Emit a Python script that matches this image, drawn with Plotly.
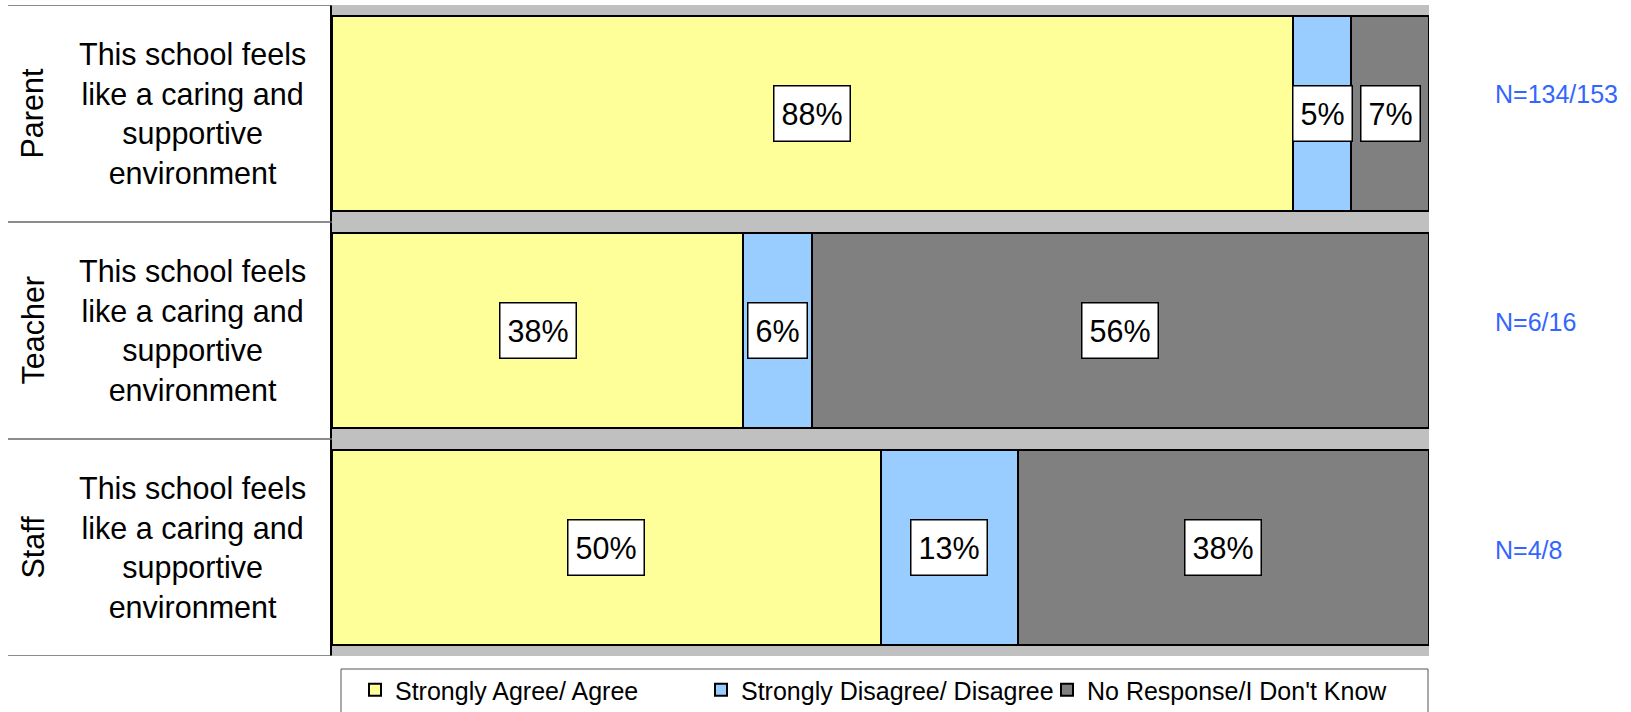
import plotly.graph_objects as go
import math

# ---- data ----
groups = ["Parent", "Teacher", "Staff"]
item_text = "This school feels<br>like a caring and<br>supportive<br>environment"
series_names = ["Strongly Agree/ Agree", "Strongly Disagree/ Disagree", "No Response/I Don't Know"]
agree = [87.6, 37.5, 50.0]
disagree = [5.3, 6.25, 12.5]
no_response = [7.1, 56.25, 37.5]
n_labels = ["N=134/153", "N=6/16", "N=4/8"]

colors = ["#FFFF99", "#99CCFF", "#808080"]
FONT = "Liberation Sans, Arial, sans-serif"

W, H = 1631, 712
ML, MR, MT, MB = 332, 202, 5, 56
PW = W - ML - MR
PH = H - MT - MB

def px(x):
    return (x - ML) / PW

def py(y):
    return (H - MB - y) / PH

ypos = list(range(len(groups)))
series = [agree, disagree, no_response]

fig = go.Figure()
for name, vals, col in zip(series_names, series, colors):
    fig.add_trace(go.Bar(
        y=ypos, x=vals, name=name, orientation="h",
        marker=dict(color=col, line=dict(color="black", width=2)),
        width=0.9, hoverinfo="skip",
    ))

def lab(v):
    return f"{int(math.floor(v + 0.5))}%"

annotations = []
for i in range(len(groups)):
    cum = 0
    for vals in series:
        v = vals[i]
        annotations.append(dict(
            x=cum + v / 2, y=ypos[i], xref="x", yref="y",
            text=lab(v), showarrow=False,
            font=dict(family=FONT, size=30.5, color="black"),
            bgcolor="white", bordercolor="black", borderwidth=1.5, borderpad=7,
            height=40,
        ))
        cum += v

# left-side labels
for i, g in enumerate(groups):
    yc = 1 - (i + 0.5) / len(groups)
    annotations.append(dict(
        x=px(32), y=yc, xref="paper", yref="paper",
        text=g, textangle=-90, showarrow=False,
        font=dict(family=FONT, size=30.5, color="black"),
        xanchor="center", yanchor="middle",
    ))
    annotations.append(dict(
        x=px(192), y=yc, xref="paper", yref="paper",
        text=item_text, showarrow=False, align="center",
        font=dict(family=FONT, size=30.5, color="black"),
        xanchor="center", yanchor="middle",
    ))

# N labels on the right
n_y_px = [94, 322, 550]
for t, yy in zip(n_labels, n_y_px):
    annotations.append(dict(
        x=px(1493), y=py(yy),
        xref="paper", yref="paper", text=t, showarrow=False,
        font=dict(family=FONT, size=25, color="#3366FF"),
        xanchor="left", yanchor="middle",
    ))

shapes = []
for b in [-0.5, 0.5, 1.5, 2.5]:
    shapes.append(dict(
        type="line", xref="paper", yref="y",
        x0=px(8), x1=0, y0=b, y1=b,
        line=dict(color="#666666", width=1.5),
    ))
# legend frame
shapes.append(dict(
    type="rect", xref="paper", yref="paper",
    x0=px(341), x1=px(1428), y0=py(669), y1=py(716),
    line=dict(color="#555555", width=1), fillcolor="rgba(0,0,0,0)",
))

fig.update_layout(
    width=W, height=H,
    margin=dict(l=ML, r=MR, t=MT, b=MB, autoexpand=False),
    barmode="stack",
    plot_bgcolor="#C0C0C0",
    paper_bgcolor="white",
    font=dict(family=FONT, size=24, color="black"),
    xaxis=dict(range=[0, 100], showticklabels=False, showgrid=False,
               zeroline=False, ticks=""),
    yaxis=dict(range=[2.5, -0.5], showticklabels=False, showgrid=False,
               zeroline=False, ticks="", showline=True, linecolor="black",
               linewidth=1.5),
    showlegend=True,
    legend=dict(
        orientation="h", xref="container", x=355 / W, xanchor="left",
        yref="container", y=(H - 690) / H, yanchor="middle",
        borderwidth=0, bgcolor="rgba(0,0,0,0)",
        font=dict(family=FONT, size=25, color="black"),
        entrywidth=301, entrywidthmode="pixels", traceorder="normal",
    ),
    annotations=annotations,
    shapes=shapes,
)

fig.write_html("out.html", config={"displayModeBar": False},
               post_script="document.body.style.margin='0px';")
